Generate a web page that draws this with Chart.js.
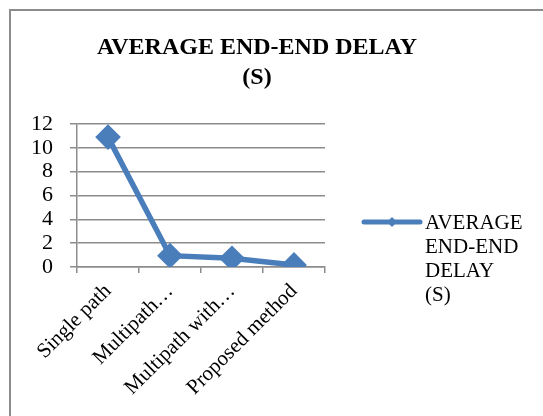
<!DOCTYPE html>
<html>
<head>
<meta charset="utf-8">
<script src="https://cdn.jsdelivr.net/npm/chart.js@4/dist/chart.umd.min.js"></script>
<style>
  html, body { margin: 0; padding: 0; background: #fff; overflow: hidden; }
  #wrap { position: relative; width: 543px; height: 416px; }
  #frame { position: absolute; left: 9px; top: 9px; width: 600px; height: 500px;
           border-left: 2px solid #8c8c8c; border-top: 2px solid #8c8c8c; }
  canvas { position: absolute; left: 0; top: 0; }
</style>
</head>
<body>
<div id="wrap">
  <div id="frame"></div>
  <canvas id="chart" width="543" height="416"></canvas>
</div>
<script>
// Routing schemes compared
const categories = ['Single path', 'Multipath\u2026', 'Multipath with\u2026', 'Proposed method'];
// Average end-to-end delay in seconds
const delayValues = [10.9, 0.95, 0.73, 0.17];
const seriesName = 'AVERAGE END-END DELAY (S)';
const legendLines = ['AVERAGE', 'END-END', 'DELAY', '(S)'];
const titleLines = ['AVERAGE END-END DELAY', '(S)'];
const yTicks = [0, 2, 4, 6, 8, 10, 12];

const BLUE = '#4a7ebb';
const GRID = '#8c8c8c';
const SERIF = "'Liberation Serif', 'Times New Roman', serif";

// Legend drawn to the right of the plot: a line sample with a diamond, then wrapped text
const sideLegend = {
  id: 'sideLegend',
  afterDraw(chart) {
    const ctx = chart.ctx;
    const ds = chart.data.datasets[0];
    const x0 = 364, x1 = 420, y0 = 222;
    ctx.save();
    ctx.strokeStyle = ds.borderColor;
    ctx.lineWidth = 5;
    ctx.lineCap = 'round';
    ctx.beginPath();
    ctx.moveTo(x0, y0);
    ctx.lineTo(x1, y0);
    ctx.stroke();
    const cx = (x0 + x1) / 2, r = 5;
    ctx.fillStyle = ds.pointBackgroundColor;
    ctx.beginPath();
    ctx.moveTo(cx, y0 - r); ctx.lineTo(cx + r, y0); ctx.lineTo(cx, y0 + r); ctx.lineTo(cx - r, y0);
    ctx.closePath();
    ctx.fill();
    ctx.fillStyle = '#000';
    ctx.font = '21px ' + SERIF;
    ctx.textBaseline = 'middle';
    ctx.textAlign = 'left';
    legendLines.forEach((line, i) => ctx.fillText(line, 425, y0 + 1 + i * 24.3));
    ctx.restore();
  }
};

new Chart(document.getElementById('chart'), {
  type: 'line',
  data: {
    labels: categories,
    datasets: [{
      label: seriesName,
      data: delayValues,
      borderColor: BLUE,
      backgroundColor: BLUE,
      pointBackgroundColor: BLUE,
      pointBorderColor: BLUE,
      borderWidth: 5.5,
      pointStyle: 'rectRot',
      pointRadius: 9,
      pointHoverRadius: 9,
      tension: 0,
      yAxisID: 'y'
    }]
  },
  plugins: [sideLegend],
  options: {
    responsive: false,
    animation: false,
    devicePixelRatio: 1,
    layout: { padding: { left: 0, right: 29, top: 0, bottom: 0 } },
    plugins: {
      legend: { display: false },
      tooltip: { enabled: false },
      title: {
        display: true,
        text: titleLines,
        color: '#000',
        font: { family: SERIF, size: 24, weight: 'bold', lineHeight: 1.25 },
        padding: { top: 33, bottom: 31 }
      }
    },
    scales: {
      x: {
        offset: true,
        afterFit(scale) { scale.height = 149; },
        grid: { display: true, drawOnChartArea: false, drawTicks: true, tickLength: 6, offset: true, color: GRID, lineWidth: 1.5 },
        border: { display: true, color: GRID, width: 1.5 },
        ticks: { color: '#000', font: { family: SERIF, size: 21 }, minRotation: 45, maxRotation: 45, autoSkip: false, padding: 6 }
      },
      y: {
        position: 'left',
        min: 0,
        max: 12,
        afterFit(scale) { scale.width = 77; },
        afterBuildTicks(scale) { scale.ticks = yTicks.map(v => ({ value: v })); },
        grid: { color: GRID, lineWidth: 1.5, tickLength: 7, drawTicks: true },
        border: { display: true, color: GRID, width: 1.5 },
        ticks: { color: '#000', font: { family: SERIF, size: 22, lineHeight: 1 }, padding: 17, autoSkip: false }
      },
      y1: {
        position: 'right',
        display: true,
        afterFit(scale) { scale.width = 189; },
        grid: { display: false },
        border: { display: false },
        ticks: { display: false }
      }
    }
  }
});
</script>
</body>
</html>
